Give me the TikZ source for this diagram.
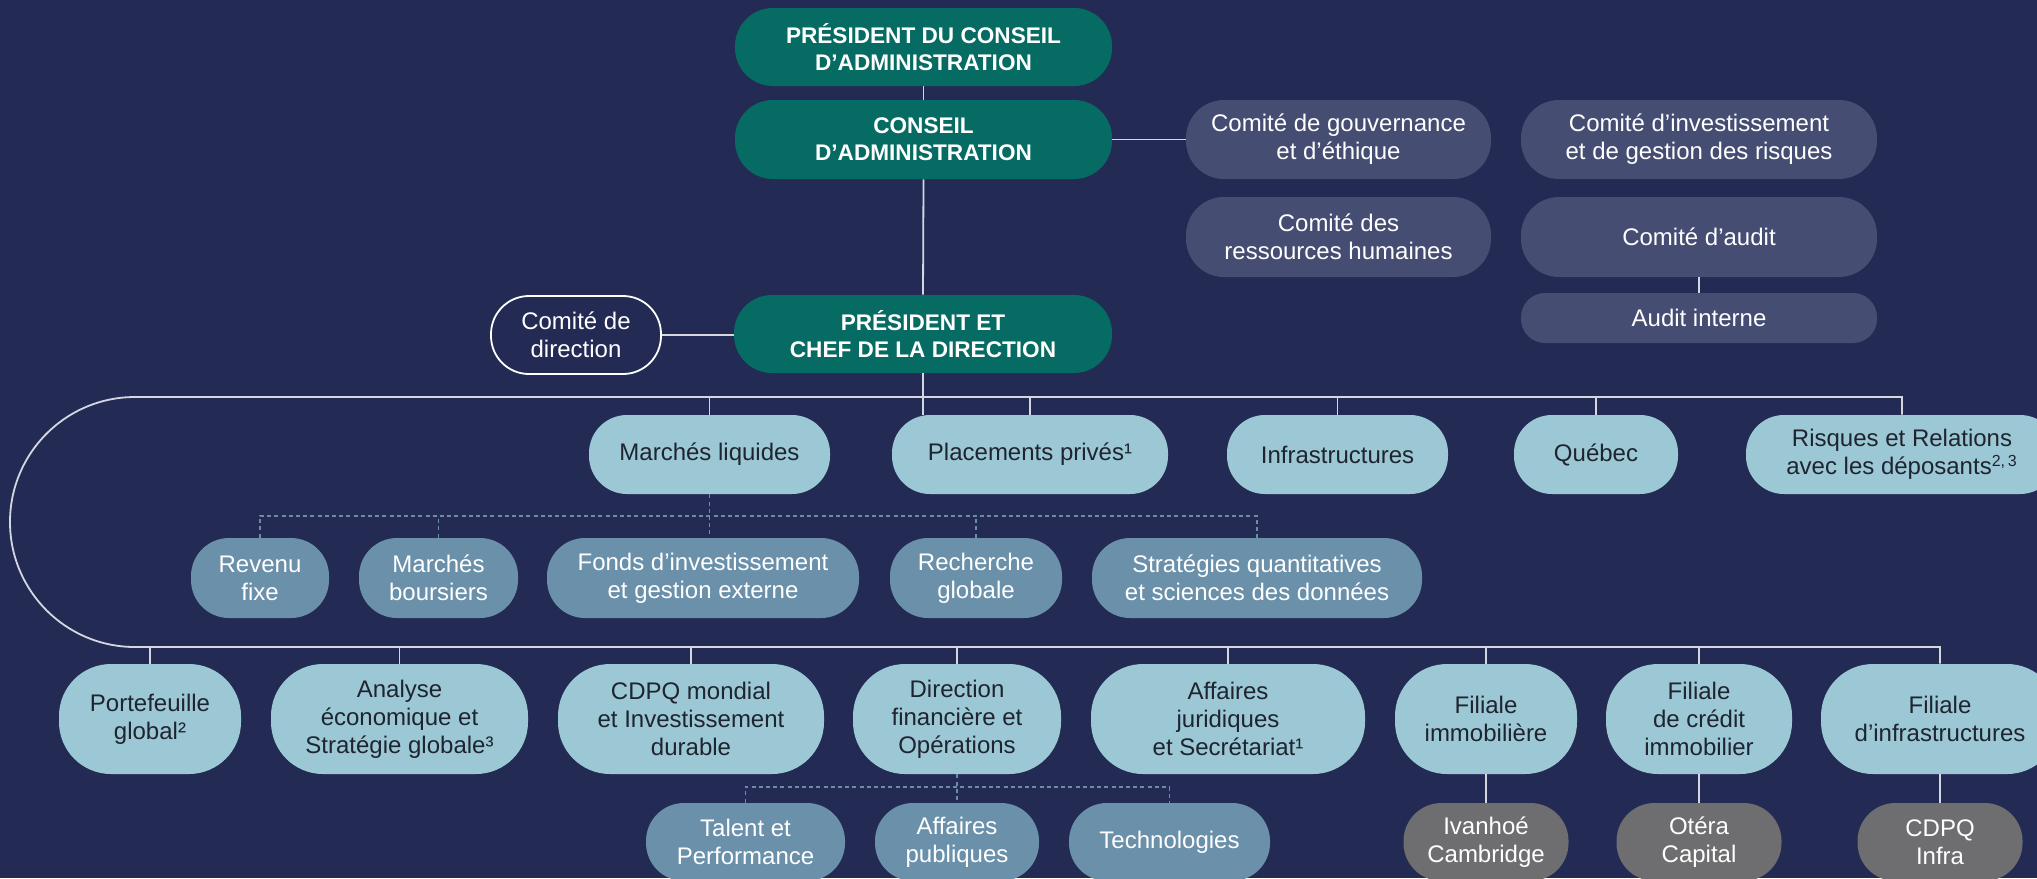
\documentclass[tikz,border=0pt]{standalone}
\usepackage{fontspec}
\setmainfont{Liberation Sans}
\definecolor{bgc}{HTML}{232B55}
\definecolor{cgreen}{HTML}{066B62}
\definecolor{ccomm}{HTML}{454D72}
\definecolor{clight}{HTML}{9BC8D4}
\definecolor{cmid}{HTML}{6A90AA}
\definecolor{cgrey}{HTML}{6E6E70}
\definecolor{ctxt}{HTML}{1E2430}
\definecolor{cline}{HTML}{D4D6E0}
\definecolor{cdash}{HTML}{6A8CA8}
\begin{document}
\begin{tikzpicture}[x=0.5pt,y=-0.5pt,
  box/.style={rectangle, rounded corners=19pt, inner sep=0pt, align=center,
              font=\fontsize{12}{14}\selectfont},
  gbox/.style={box, fill=cgreen, text=white, font=\fontsize{11.3}{13.6}\selectfont\bfseries},
  cbox/.style={box, fill=ccomm, text=white},
  obox/.style={box, draw=white, line width=0.9pt, text=white},
  lbox/.style={box, fill=clight, text=ctxt},
  mbox/.style={box, fill=cmid, text=white},
  tbox/.style={box, fill=cgrey, text=white},
  tall/.style={rounded corners=26pt, minimum height=55pt},
  wire/.style={draw=cline, line width=0.9pt},
  dwire/.style={draw=cdash, line width=0.8pt, dash pattern=on 2pt off 1.6pt}
]
\fill[bgc] (0,0) rectangle (2037,878);
\useasboundingbox (0,0) rectangle (2037,878);

% governance
\node[gbox, minimum width=188.5pt, minimum height=39pt] (pca) at (923.5,47) {PRÉSIDENT DU CONSEIL\\D’ADMINISTRATION};
\node[gbox, minimum width=188.5pt, minimum height=39.5pt] (ca) at (923.5,139.5) {CONSEIL\\D’ADMINISTRATION};
\node[gbox, minimum width=189pt, minimum height=39pt] (pdg) at (923,334) {PRÉSIDENT ET\\CHEF DE LA DIRECTION};

\node[cbox, minimum width=152.5pt, minimum height=39.5pt] (cge) at (1338.5,139.5) {Comité de gouvernance\\et d’éthique};
\node[cbox, minimum width=178pt, minimum height=39.5pt] (cig) at (1699,139.5) {Comité d’investissement\\et de gestion des risques};
\node[cbox, minimum width=152.5pt, minimum height=40pt] (crh) at (1338.5,237) {Comité des\\ressources humaines};
\node[cbox, minimum width=178pt, minimum height=40pt] (caud) at (1699,237) {Comité d’audit};
\node[cbox, rounded corners=12pt, minimum width=178pt, minimum height=25pt] (ai) at (1699,318) {Audit interne};

\node[obox, minimum width=85pt, minimum height=39pt] (cd) at (576,335) {Comité de\\direction};

% row 1
\node[lbox, minimum width=120.5pt, minimum height=39.5pt] (ml) at (709.5,454.5) {Marchés liquides};
\node[lbox, minimum width=138pt, minimum height=39.5pt] (pp) at (1030,454.5) {Placements privés¹};
\node[lbox, minimum width=110.5pt, minimum height=39.5pt] (inf) at (1337.5,454.5) {Infrastructures};
\node[lbox, minimum width=82pt, minimum height=39.5pt] (qc) at (1596,454.5) {Québec};
\node[lbox, minimum width=156pt, minimum height=39.5pt] (rr) at (1902,454.5) {Risques et Relations\\avec les déposants\textsuperscript{2,\,3}};

% row 2
\node[mbox, minimum width=69pt, minimum height=40pt] (rf) at (260,578) {Revenu\\fixe};
\node[mbox, minimum width=79.5pt, minimum height=40pt] (mb) at (438.5,578) {Marchés\\boursiers};
\node[mbox, minimum width=156pt, minimum height=40pt] (fi) at (703,578) {Fonds d’investissement\\et gestion externe};
\node[mbox, minimum width=86pt, minimum height=40pt] (rg) at (976,578) {Recherche\\globale};
\node[mbox, minimum width=165pt, minimum height=40pt] (sq) at (1257,578) {Stratégies quantitatives\\et sciences des données};

% row 3
\node[lbox, tall, minimum width=91pt] (pg) at (150,719) {Portefeuille\\global²};
\node[lbox, tall, minimum width=128.5pt] (ae) at (399.5,719) {Analyse\\économique et\\Stratégie globale³};
\node[lbox, tall, minimum width=133pt] (cm) at (691,719) {CDPQ mondial\\et Investissement\\durable};
\node[lbox, tall, minimum width=104pt] (df) at (957,719) {Direction\\financière et\\Opérations};
\node[lbox, tall, minimum width=137pt] (aj) at (1228,719) {Affaires\\juridiques\\et Secrétariat¹};
\node[lbox, tall, minimum width=91pt] (fim) at (1486,719) {Filiale\\immobilière};
\node[lbox, tall, minimum width=93pt] (fcr) at (1699,719) {Filiale\\de crédit\\immobilier};
\node[lbox, tall, minimum width=119pt] (finf) at (1940,719) {Filiale\\d’infrastructures};

% row 4
\node[mbox, minimum width=99.5pt, minimum height=39pt] (tp) at (745.5,842) {Talent et\\Performance};
\node[mbox, minimum width=82pt, minimum height=39pt] (ap) at (957,842) {Affaires\\publiques};
\node[mbox, minimum width=100.5pt, minimum height=39pt] (tec) at (1169.5,842) {Technologies};
\node[tbox, minimum width=82.5pt, minimum height=39pt] (iv) at (1486,842) {Ivanhoé\\Cambridge};
\node[tbox, minimum width=82.5pt, minimum height=39pt] (ot) at (1699,842) {Otéra\\Capital};
\node[tbox, minimum width=82.5pt, minimum height=39pt] (ci) at (1940,842) {CDPQ\\Infra};

% bus coordinates
\coordinate (tb) at (923,397);
\coordinate (bb) at (923,647);
\coordinate (pstub) at (923,415);
\coordinate (dl) at (700,516);
\coordinate (dl2) at (957,787);

% solid connectors
\draw[wire] (pca.south) -- (ca.north);
\draw[wire] (ca.east) -- (cge.west);
\draw[wire] (ca.south) -- (pdg.north);
\draw[wire] (cd.east) -- (cd.east -| pdg.west);
\draw[wire] (caud.south) -- (ai.north);
\draw[wire] (pdg.south) -- (pstub);
\draw[wire] (rr.north) -- (rr.north |- tb) -- (135,397)
  arc[start angle=90, end angle=270, radius=62.5pt]
  -- (finf.north |- bb) -- (finf.north);
\foreach \n in {ml,pp,inf,qc} \draw[wire] (\n.north) -- (\n.north |- tb);
\foreach \n in {pg,ae,cm,df,aj,fim,fcr} \draw[wire] (\n.north) -- (\n.north |- bb);
\draw[wire] (fim.south) -- (iv.north);
\draw[wire] (fcr.south) -- (ot.north);
\draw[wire] (finf.south) -- (ci.north);

% dashed connectors
\draw[dwire] (rf.north) -- (rf.north |- dl) -- (sq.north |- dl) -- (sq.north);
\draw[dwire] (ml.south) -- (ml.south |- fi.north);
\draw[dwire] (mb.north) -- (mb.north |- dl);
\draw[dwire] (rg.north) -- (rg.north |- dl);
\draw[dwire] (tp.north) -- (tp.north |- dl2) -- (tec.north |- dl2) -- (tec.north);
\draw[dwire] (df.south) -- (ap.north);
\end{tikzpicture}
\end{document}
